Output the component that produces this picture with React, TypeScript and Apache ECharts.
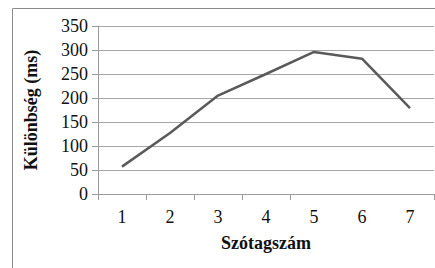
import React, { useEffect, useRef } from "react";
import * as echarts from "echarts";

const categories = ["1", "2", "3", "4", "5", "6", "7"];
const values = [57, 127, 205, 250, 296, 282, 179];
const yTicks = [0, 50, 100, 150, 200, 250, 300, 350];

export default function App() {
  const ref = useRef<HTMLDivElement>(null);
  useEffect(() => {
    const chart = echarts.init(ref.current!, null, { renderer: "svg" });
    const font = "Liberation Serif, Times New Roman, serif";
    chart.setOption({
      animation: false,
      backgroundColor: "#ffffff",
      textStyle: { fontFamily: font },
      graphic: [
        {
          type: "polyline",
          shape: { points: [[12.5, 300], [12.5, 8.5], [600, 8.5]] },
          style: { fill: "none", stroke: "#8c8c8c", lineWidth: 1 },
          silent: true,
        },
      ],
      grid: { left: 98, top: 26, right: 1, bottom: 74 },
      xAxis: {
        type: "category",
        data: categories,
        boundaryGap: true,
        name: "Szótagszám",
        nameLocation: "middle",
        nameGap: 40,
        nameTextStyle: { fontFamily: font, fontWeight: "bold", fontSize: 18, color: "#111" },
        axisLine: { lineStyle: { color: "#9a9a9a", width: 1 } },
        axisTick: {
          show: true,
          length: 6,
          interval: (index: number) => index <= 4,
          lineStyle: { color: "#9a9a9a" },
        },
        splitLine: { show: false },
        axisLabel: { fontFamily: font, fontSize: 18, color: "#111", margin: 14 },
      },
      yAxis: {
        type: "value",
        min: yTicks[0],
        max: yTicks[yTicks.length - 1],
        interval: 50,
        name: "Különbség (ms)",
        nameLocation: "middle",
        nameGap: 58,
        nameRotate: 90,
        nameTextStyle: { fontFamily: font, fontWeight: "bold", fontSize: 18, color: "#111" },
        axisLine: { show: true, lineStyle: { color: "#9a9a9a", width: 1 } },
        axisTick: { show: true, length: 6, lineStyle: { color: "#9a9a9a" } },
        axisLabel: { fontFamily: font, fontSize: 18, color: "#111", margin: 10 },
        splitLine: { lineStyle: { color: "#a6a6a6", width: 1 } },
      },
      series: [
        {
          type: "line",
          data: values,
          symbol: "none",
          lineStyle: { color: "#5a5a5a", width: 2.5 },
        },
      ],
    });
    return () => chart.dispose();
  }, []);
  return <div ref={ref} style={{ width: 435, height: 268, position: "absolute", left: 0, top: 0 }} />;
}
